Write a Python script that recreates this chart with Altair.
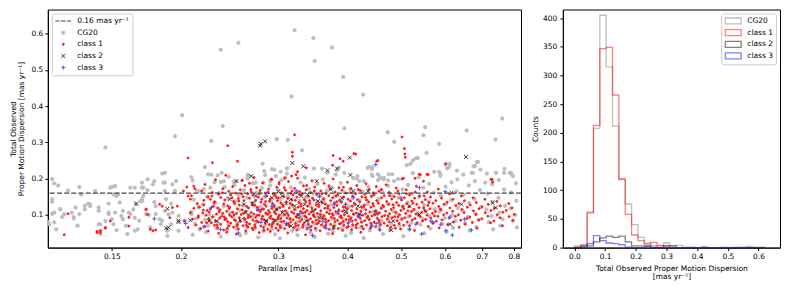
import altair as alt
import pandas as pd

DASH_LABEL = "0.16 mas yr\u207b\u00b9"
LEGEND_LABELS = [DASH_LABEL, "CG20", "class 1", "class 2", "class 3"]
THRESHOLD = 0.16

# ---- scatter: (parallax [mas], total observed PM dispersion [mas/yr]) ----
cg20 = [
    (0.117,0.199),(0.118,0.187),(0.120,0.181),(0.117,0.143),(0.117,0.136),(0.117,0.103),(0.118,0.106),(0.115,0.080),
    (0.119,0.060),(0.121,0.115),(0.122,0.094),(0.125,0.167),(0.128,0.090),(0.128,0.094),(0.129,0.120),(0.131,0.177),
    (0.130,0.070),(0.132,0.156),(0.134,0.115),(0.136,0.131),(0.137,0.124),(0.140,0.166),(0.143,0.074),(0.143,0.056),
    (0.142,0.120),(0.142,0.111),(0.146,0.083),(0.148,0.131),(0.148,0.106),(0.149,0.175),(0.152,0.179),(0.151,0.156),
    (0.153,0.152),(0.155,0.134),(0.150,0.088),(0.153,0.058),(0.156,0.097),(0.157,0.111),(0.160,0.047),(0.162,0.175),
    (0.161,0.106),(0.164,0.115),(0.165,0.092),(0.166,0.129),(0.167,0.060),(0.170,0.189),(0.174,0.198),(0.169,0.138),
    (0.170,0.143),(0.173,0.115),(0.175,0.100),(0.178,0.184),(0.179,0.135),(0.180,0.124),(0.183,0.088),(0.184,0.074),
    (0.185,0.214),(0.186,0.189),(0.187,0.166),(0.188,0.143),(0.192,0.131),(0.189,0.042),(0.189,0.056),(0.190,0.101),
    (0.193,0.106),(0.198,0.097),(0.193,0.184),(0.196,0.193),
    (0.1156,0.074),(0.118,0.079),(0.121,0.116),(0.123,0.102),(0.127,0.106),(0.131,0.102),(0.134,0.125),(0.137,0.129),
    (0.130,0.070),(0.142,0.074),(0.143,0.047),(0.148,0.102),(0.152,0.106),(0.151,0.074),(0.157,0.088),(0.159,0.070),
    (0.162,0.102),(0.165,0.056),(0.168,0.084),(0.170,0.138),(0.173,0.102),(0.176,0.065),(0.180,0.102),(0.185,0.084),
    (0.187,0.111),(0.192,0.074),(0.198,0.056),(0.203,0.084),(0.209,0.102),
    (0.150,0.177),(0.152,0.180),(0.154,0.157),(0.170,0.175),(0.174,0.168),(0.171,0.152),(0.165,0.175),(0.171,0.175),
    (0.179,0.193),(0.187,0.189),(0.195,0.166),(0.215,0.166),(0.239,0.193),(0.251,0.193),(0.264,0.207),(0.273,0.189),
    (0.283,0.221),(0.297,0.207),(0.292,0.226),(0.303,0.219),(0.311,0.228),(0.368,0.216),(0.383,0.223),(0.454,0.212),
    (0.460,0.202),(0.475,0.212),(0.486,0.193),
    # band
    (0.210,0.195),(0.214,0.165),(0.211,0.142),(0.215,0.122),(0.209,0.108),(0.213,0.090),(0.212,0.075),(0.216,0.060),(0.210,0.045),
    (0.224,0.212),(0.220,0.171),(0.223,0.149),(0.219,0.128),(0.225,0.101),(0.221,0.086),(0.224,0.070),(0.222,0.052),
    (0.230,0.190),(0.234,0.160),(0.231,0.133),(0.235,0.115),(0.229,0.096),(0.233,0.079),(0.232,0.063),(0.236,0.040),
    (0.244,0.205),(0.240,0.177),(0.243,0.146),(0.239,0.124),(0.245,0.105),(0.241,0.088),(0.244,0.072),(0.242,0.057),
    (0.250,0.183),(0.254,0.155),(0.251,0.138),(0.255,0.112),(0.249,0.093),(0.253,0.076),(0.252,0.061),(0.256,0.043),
    (0.264,0.200),(0.260,0.168),(0.263,0.147),(0.259,0.126),(0.265,0.100),(0.261,0.083),(0.264,0.066),(0.262,0.050),
    (0.270,0.187),(0.274,0.161),(0.271,0.134),(0.275,0.116),(0.269,0.094),(0.273,0.079),(0.272,0.064),(0.276,0.038),
    (0.284,0.210),(0.280,0.174),(0.283,0.150),(0.279,0.122),(0.285,0.103),(0.281,0.087),(0.284,0.071),(0.282,0.055),
    (0.290,0.181),(0.294,0.158),(0.291,0.137),(0.295,0.113),(0.289,0.092),(0.293,0.077),(0.292,0.060),(0.296,0.046),
    (0.304,0.196),(0.300,0.169),(0.303,0.143),(0.299,0.119),(0.305,0.098),(0.301,0.084),(0.304,0.068),(0.302,0.035),
    (0.311,0.214),(0.316,0.176),(0.312,0.152),(0.317,0.128),(0.310,0.107),(0.315,0.089),(0.313,0.073),(0.318,0.056),
    (0.329,0.189),(0.323,0.163),(0.328,0.139),(0.322,0.114),(0.330,0.095),(0.324,0.080),(0.327,0.062),(0.325,0.044),
    (0.335,0.203),(0.341,0.172),(0.336,0.148),(0.342,0.125),(0.334,0.101),(0.340,0.086),(0.337,0.069),(0.343,0.051),
    (0.353,0.185),(0.347,0.159),(0.352,0.135),(0.346,0.111),(0.354,0.093),(0.348,0.076),(0.351,0.059),(0.349,0.039),
    (0.361,0.198),(0.367,0.167),(0.362,0.144),(0.368,0.121),(0.360,0.099),(0.366,0.083),(0.363,0.067),(0.369,0.048),
    (0.381,0.211),(0.375,0.175),(0.380,0.151),(0.374,0.127),(0.382,0.104),(0.376,0.088),(0.379,0.072),(0.377,0.055),
    (0.389,0.188),(0.395,0.162),(0.390,0.138),(0.396,0.116),(0.388,0.096),(0.394,0.080),(0.391,0.063),(0.397,0.042),
    (0.410,0.201),(0.404,0.170),(0.409,0.146),(0.403,0.123),(0.411,0.102),(0.405,0.085),(0.408,0.068),(0.406,0.050),
    (0.420,0.193),(0.426,0.164),(0.421,0.140),(0.427,0.118),(0.419,0.097),(0.425,0.081),(0.422,0.065),(0.428,0.036),
    (0.444,0.207),(0.436,0.178),(0.443,0.153),(0.435,0.129),(0.445,0.108),(0.437,0.090),(0.442,0.074),(0.439,0.057),
    (0.454,0.196),(0.462,0.167),(0.455,0.143),(0.463,0.120),(0.453,0.100),(0.461,0.084),(0.457,0.069),(0.464,0.047),
    (0.482,0.212),(0.474,0.180),(0.481,0.155),(0.473,0.131),(0.484,0.110),(0.475,0.092),(0.480,0.076),(0.477,0.058),
    (0.494,0.199),(0.503,0.170),(0.495,0.147),(0.504,0.124),(0.492,0.103),(0.501,0.087),(0.497,0.071),(0.505,0.041),
    (0.525,0.215),(0.515,0.183),(0.524,0.158),(0.514,0.134),(0.526,0.113),(0.516,0.095),(0.522,0.078),(0.518,0.060),
    (0.538,0.204),(0.549,0.175),(0.539,0.150),(0.550,0.127),(0.536,0.106),(0.547,0.089),(0.542,0.073),(0.551,0.049),
    (0.574,0.219),(0.562,0.186),(0.573,0.161),(0.561,0.137),(0.575,0.116),(0.563,0.097),(0.570,0.080),(0.565,0.062),
    (0.589,0.208),(0.602,0.178),(0.590,0.153),(0.603,0.130),(0.587,0.109),(0.600,0.091),(0.594,0.075),(0.604,0.053),
    (0.631,0.222),(0.617,0.190),(0.630,0.165),(0.616,0.141),(0.633,0.119),(0.619,0.100),(0.627,0.083),(0.621,0.064),
    (0.648,0.211),(0.663,0.181),(0.649,0.156),(0.664,0.133),(0.646,0.112),(0.661,0.094),(0.653,0.077),(0.666,0.057),
    (0.696,0.225),(0.680,0.193),(0.695,0.168),(0.679,0.144),(0.698,0.122),(0.682,0.103),(0.691,0.086),(0.684,0.067),
    (0.715,0.214),(0.731,0.184),(0.716,0.159),(0.732,0.136),(0.713,0.115),(0.729,0.097),(0.720,0.080),(0.734,0.060),
    (0.769,0.227),(0.751,0.196),(0.768,0.170),(0.750,0.147),(0.771,0.125),(0.753,0.106),(0.763,0.088),(0.756,0.070),
    (0.790,0.216),(0.807,0.187),(0.791,0.162),(0.808,0.139),(0.788,0.118),(0.805,0.100),(0.796,0.083),(0.810,0.065),
    # upper outliers
    (0.146,0.286),(0.187,0.216),(0.209,0.204),(0.221,0.232),(0.201,0.375),(0.195,0.317),(0.238,0.345),(0.227,0.304),
    (0.321,0.610),(0.254,0.575),(0.236,0.556),(0.347,0.588),(0.375,0.562),(0.349,0.525),(0.393,0.481),(0.317,0.427),
    (0.427,0.432),(0.298,0.309),(0.312,0.307),(0.395,0.339),(0.473,0.328),(0.486,0.302),(0.553,0.342),(0.549,0.320),
    (0.586,0.296),(0.657,0.333),(0.762,0.366),(0.741,0.308),(0.331,0.278),
    (0.281,0.241),(0.295,0.225),(0.348,0.228),(0.360,0.228),(0.386,0.230),(0.395,0.216),(0.417,0.207),(0.227,0.211),
    (0.233,0.209),(0.237,0.216),(0.236,0.191),(0.264,0.211),(0.249,0.191),(0.282,0.189),(0.290,0.193),(0.309,0.202),
    (0.226,0.175),(0.556,0.271),(0.536,0.257),(0.520,0.241),(0.676,0.234),(0.686,0.246),(0.671,0.216),(0.601,0.239),
    (0.611,0.232),(0.632,0.198),(0.589,0.213),(0.742,0.216),(0.768,0.216),(0.786,0.216),(0.710,0.189),(0.732,0.196),
    (0.795,0.209),(0.438,0.232),(0.444,0.232),(0.443,0.211),(0.458,0.204),(0.466,0.202),(0.474,0.195),
    (0.532,0.256),(0.525,0.250),(0.512,0.237),(0.689,0.246),(0.680,0.235),(0.674,0.216),(0.743,0.216),(0.797,0.207),
    (0.435,0.230),(0.443,0.226),(0.416,0.201),(0.428,0.193),(0.465,0.198),(0.612,0.241),(0.606,0.228),(0.586,0.219),
]

class1 = [
    (0.125,0.103),(0.123,0.045),(0.141,0.054),(0.143,0.056),(0.146,0.063),(0.149,0.083),(0.161,0.069),(0.173,0.115),
    (0.174,0.101),(0.176,0.060),(0.178,0.056),(0.180,0.058),(0.183,0.129),(0.185,0.124),(0.193,0.120),(0.197,0.124),
    (0.191,0.092),(0.202,0.166),(0.205,0.177),(0.211,0.179),(0.212,0.172),(0.206,0.152),(0.208,0.143),(0.203,0.083),
    (0.206,0.065),(0.208,0.106),(0.141,0.051),(0.143,0.051),(0.146,0.065),(0.161,0.093),
    (0.206,0.257),(0.228,0.244),(0.253,0.248),(0.243,0.291),(0.321,0.321),(0.502,0.315),
    (0.318,0.273),(0.318,0.262),(0.377,0.264),(0.388,0.255),(0.393,0.248),(0.414,0.268),(0.376,0.237),(0.337,0.230),
    (0.325,0.219),(0.258,0.195),(0.266,0.187),(0.292,0.198),(0.301,0.189),(0.308,0.202),(0.317,0.207),(0.323,0.211),
    (0.411,0.269),(0.454,0.250),(0.507,0.283),(0.508,0.268),(0.509,0.259),(0.603,0.241),(0.502,0.199),(0.542,0.211),
    (0.560,0.211),(0.549,0.193),(0.727,0.198),(0.732,0.190),(0.452,0.248),(0.539,0.212),(0.557,0.212),(0.505,0.201),
    (0.530,0.201),(0.729,0.198),
    # dense band
    (0.209,0.153),(0.214,0.131),(0.211,0.118),(0.215,0.097),(0.210,0.088),(0.213,0.072),
    (0.218,0.166),(0.216,0.121),(0.219,0.105),(0.215,0.093),(0.218,0.079),(0.217,0.062),(0.220,0.140),
    (0.221,0.184),(0.224,0.150),(0.220,0.128),(0.223,0.112),(0.222,0.099),(0.225,0.085),(0.221,0.068),(0.224,0.055),
    (0.228,0.162),(0.226,0.143),(0.229,0.124),(0.225,0.108),(0.228,0.094),(0.227,0.078),(0.230,0.071),(0.226,0.116),
    (0.231,0.197),(0.234,0.157),(0.230,0.136),(0.233,0.119),(0.232,0.102),(0.235,0.091),(0.231,0.083),(0.233,0.064),(0.234,0.049),
    (0.238,0.172),(0.236,0.148),(0.239,0.130),(0.235,0.113),(0.238,0.104),(0.237,0.096),(0.240,0.087),(0.236,0.074),(0.239,0.058),
    (0.241,0.209),(0.244,0.165),(0.240,0.141),(0.243,0.125),(0.242,0.110),(0.245,0.099),(0.241,0.089),(0.243,0.081),(0.244,0.069),(0.242,0.052),
    (0.248,0.178),(0.246,0.155),(0.249,0.137),(0.245,0.121),(0.248,0.107),(0.247,0.095),(0.250,0.086),(0.246,0.077),(0.249,0.066),
    (0.251,0.160),(0.254,0.145),(0.250,0.131),(0.253,0.117),(0.252,0.104),(0.255,0.092),(0.251,0.084),(0.253,0.073),(0.254,0.061),(0.252,0.047),
    (0.258,0.195),(0.256,0.169),(0.259,0.150),(0.255,0.127),(0.258,0.114),(0.257,0.101),(0.260,0.090),(0.256,0.082),(0.259,0.070),
    (0.261,0.181),(0.264,0.158),(0.260,0.139),(0.263,0.123),(0.262,0.110),(0.265,0.098),(0.261,0.088),(0.263,0.079),(0.264,0.067),(0.262,0.056),
    (0.268,0.163),(0.266,0.146),(0.269,0.133),(0.265,0.119),(0.268,0.106),(0.267,0.095),(0.270,0.085),(0.266,0.075),(0.269,0.063),
    (0.271,0.203),(0.274,0.175),(0.270,0.154),(0.273,0.140),(0.272,0.126),(0.275,0.113),(0.271,0.102),(0.273,0.093),(0.274,0.083),(0.272,0.072),(0.270,0.059),
    (0.278,0.167),(0.276,0.149),(0.279,0.135),(0.275,0.121),(0.278,0.109),(0.277,0.099),(0.280,0.089),(0.276,0.080),(0.279,0.069),(0.277,0.051),
    (0.281,0.188),(0.284,0.160),(0.280,0.143),(0.283,0.129),(0.282,0.116),(0.285,0.105),(0.281,0.096),(0.283,0.086),(0.284,0.077),(0.282,0.065),
    (0.288,0.171),(0.286,0.152),(0.289,0.138),(0.285,0.124),(0.288,0.112),(0.287,0.101),(0.290,0.092),(0.286,0.083),(0.289,0.073),(0.287,0.060),
    (0.291,0.198),(0.294,0.158),(0.290,0.144),(0.293,0.131),(0.292,0.118),(0.295,0.107),(0.291,0.097),(0.293,0.088),(0.294,0.079),(0.292,0.068),(0.290,0.054),
    (0.298,0.176),(0.296,0.154),(0.299,0.139),(0.295,0.126),(0.298,0.114),(0.297,0.103),(0.300,0.094),(0.296,0.085),(0.299,0.074),(0.297,0.063),
    (0.301,0.185),(0.304,0.161),(0.300,0.147),(0.303,0.133),(0.302,0.120),(0.305,0.109),(0.301,0.099),(0.303,0.090),(0.304,0.081),(0.302,0.070),(0.300,0.057),
    (0.309,0.168),(0.307,0.150),(0.310,0.136),(0.306,0.123),(0.309,0.111),(0.308,0.100),(0.311,0.091),(0.307,0.082),(0.310,0.072),(0.308,0.062),
    (0.313,0.192),(0.316,0.159),(0.312,0.145),(0.315,0.132),(0.314,0.119),(0.317,0.108),(0.313,0.098),(0.315,0.089),(0.316,0.080),(0.314,0.069),(0.312,0.050),
    (0.321,0.173),(0.319,0.155),(0.322,0.140),(0.318,0.127),(0.321,0.115),(0.320,0.104),(0.323,0.095),(0.319,0.086),(0.322,0.076),(0.320,0.064),
    (0.325,0.201),(0.328,0.164),(0.324,0.149),(0.327,0.134),(0.326,0.121),(0.329,0.110),(0.325,0.100),(0.327,0.091),(0.328,0.082),(0.326,0.071),(0.324,0.058),
    (0.333,0.180),(0.331,0.157),(0.334,0.142),(0.330,0.129),(0.333,0.117),(0.332,0.106),(0.335,0.096),(0.331,0.087),(0.334,0.078),(0.332,0.066),
    (0.337,0.169),(0.340,0.151),(0.336,0.137),(0.339,0.124),(0.338,0.112),(0.341,0.102),(0.337,0.093),(0.339,0.084),(0.340,0.074),(0.338,0.061),(0.336,0.045),
    (0.345,0.194),(0.343,0.162),(0.346,0.146),(0.342,0.132),(0.345,0.119),(0.344,0.108),(0.347,0.098),(0.343,0.089),(0.346,0.080),(0.344,0.068),
    (0.349,0.177),(0.352,0.156),(0.348,0.141),(0.351,0.127),(0.350,0.115),(0.353,0.104),(0.349,0.094),(0.351,0.085),(0.352,0.075),(0.350,0.063),
    (0.358,0.166),(0.356,0.150),(0.359,0.136),(0.355,0.123),(0.358,0.111),(0.357,0.101),(0.360,0.092),(0.356,0.083),(0.359,0.072),(0.357,0.056),
    (0.363,0.187),(0.366,0.159),(0.362,0.144),(0.365,0.130),(0.364,0.118),(0.367,0.107),(0.363,0.097),(0.365,0.088),(0.366,0.079),(0.364,0.067),
    (0.372,0.172),(0.370,0.153),(0.373,0.139),(0.369,0.125),(0.372,0.113),(0.371,0.103),(0.374,0.093),(0.370,0.084),(0.373,0.074),(0.371,0.060),
    (0.377,0.199),(0.380,0.163),(0.376,0.147),(0.379,0.133),(0.378,0.120),(0.381,0.109),(0.377,0.099),(0.379,0.090),(0.380,0.081),(0.378,0.069),(0.376,0.048),
    (0.386,0.175),(0.384,0.155),(0.387,0.140),(0.383,0.126),(0.386,0.114),(0.385,0.104),(0.388,0.094),(0.384,0.085),(0.387,0.075),(0.385,0.062),
    (0.391,0.168),(0.394,0.149),(0.390,0.135),(0.393,0.122),(0.392,0.110),(0.395,0.100),(0.391,0.091),(0.393,0.082),(0.394,0.071),(0.392,0.057),
    (0.400,0.190),(0.398,0.160),(0.401,0.143),(0.397,0.129),(0.400,0.117),(0.399,0.106),(0.402,0.096),(0.398,0.087),(0.401,0.077),(0.399,0.065),
    (0.406,0.173),(0.409,0.152),(0.405,0.138),(0.408,0.124),(0.407,0.112),(0.410,0.102),(0.406,0.092),(0.408,0.083),(0.409,0.073),(0.407,0.059),
    (0.416,0.181),(0.414,0.158),(0.417,0.142),(0.413,0.128),(0.416,0.116),(0.415,0.105),(0.418,0.095),(0.414,0.086),(0.417,0.076),(0.415,0.064),
    (0.422,0.167),(0.425,0.150),(0.421,0.136),(0.424,0.122),(0.423,0.110),(0.426,0.099),(0.422,0.090),(0.424,0.080),(0.425,0.068),(0.423,0.052),
    (0.432,0.186),(0.430,0.157),(0.433,0.141),(0.429,0.127),(0.432,0.114),(0.431,0.103),(0.434,0.093),(0.430,0.084),(0.433,0.072),
    (0.438,0.170),(0.442,0.151),(0.437,0.136),(0.441,0.121),(0.439,0.108),(0.443,0.097),(0.438,0.087),(0.441,0.077),(0.440,0.063),
    (0.451,0.178),(0.447,0.155),(0.452,0.139),(0.446,0.125),(0.450,0.112),(0.448,0.100),(0.453,0.090),(0.447,0.080),(0.450,0.067),
    (0.456,0.165),(0.461,0.147),(0.455,0.132),(0.460,0.118),(0.457,0.106),(0.462,0.095),(0.456,0.085),(0.459,0.073),(0.458,0.058),
    (0.470,0.183),(0.466,0.153),(0.471,0.137),(0.465,0.123),(0.469,0.110),(0.467,0.098),(0.472,0.088),(0.466,0.077),
    (0.476,0.162),(0.481,0.144),(0.475,0.129),(0.480,0.115),(0.477,0.103),(0.482,0.092),(0.476,0.081),(0.479,0.066),
    (0.490,0.174),(0.486,0.150),(0.491,0.134),(0.485,0.120),(0.489,0.107),(0.487,0.095),(0.492,0.084),(0.486,0.071),
    (0.496,0.158),(0.501,0.141),(0.495,0.126),(0.500,0.112),(0.497,0.100),(0.502,0.089),(0.496,0.076),(0.499,0.061),
    (0.511,0.169),(0.507,0.147),(0.512,0.131),(0.506,0.117),(0.510,0.104),(0.508,0.092),(0.513,0.080),
    (0.518,0.155),(0.523,0.138),(0.517,0.123),(0.522,0.109),(0.519,0.097),(0.524,0.086),(0.518,0.070),
    (0.533,0.179),(0.529,0.146),(0.534,0.129),(0.528,0.115),(0.532,0.102),(0.530,0.090),(0.535,0.078),(0.529,0.057),
    (0.540,0.152),(0.546,0.135),(0.539,0.120),(0.545,0.107),(0.541,0.095),(0.547,0.083),
    (0.558,0.163),(0.553,0.142),(0.559,0.126),(0.552,0.112),(0.557,0.099),(0.554,0.087),(0.560,0.068),
    (0.565,0.149),(0.571,0.132),(0.564,0.117),(0.570,0.104),(0.566,0.091),(0.572,0.077),
    (0.584,0.171),(0.578,0.139),(0.585,0.123),(0.577,0.109),(0.583,0.096),(0.579,0.082),(0.586,0.064),
    (0.592,0.146),(0.598,0.129),(0.591,0.114),(0.597,0.100),(0.593,0.086),
    (0.612,0.158),(0.606,0.135),(0.613,0.119),(0.605,0.105),(0.611,0.091),(0.607,0.073),
    (0.621,0.143),(0.628,0.126),(0.620,0.110),(0.627,0.096),(0.622,0.080),
    (0.643,0.152),(0.636,0.131),(0.644,0.115),(0.635,0.100),(0.641,0.085),(0.637,0.066),
    (0.651,0.139),(0.659,0.121),(0.650,0.106),(0.658,0.090),(0.653,0.074),
    (0.675,0.147),(0.667,0.127),(0.676,0.111),(0.666,0.094),(0.673,0.079),
    (0.684,0.134),(0.692,0.117),(0.683,0.101),(0.691,0.086),(0.686,0.063),
    (0.709,0.143),(0.701,0.122),(0.710,0.106),(0.700,0.089),
    (0.719,0.129),(0.727,0.112),(0.718,0.096),(0.726,0.078),
    (0.745,0.137),(0.737,0.118),(0.746,0.100),(0.736,0.083),
    (0.756,0.125),(0.764,0.107),(0.755,0.092),(0.763,0.070),
    (0.783,0.131),(0.775,0.112),(0.784,0.095),
    (0.794,0.119),(0.801,0.101),(0.797,0.085),
    # extra fill in the densest part of the band
    (0.2195,0.113),(0.2245,0.090),(0.2295,0.133),(0.2345,0.108),(0.2395,0.094),(0.2445,0.117),(0.2495,0.100),
    (0.2545,0.138),(0.2595,0.105),(0.2645,0.092),(0.2695,0.127),(0.2745,0.099),(0.2795,0.114),(0.2845,0.137),
    (0.2895,0.106),(0.2945,0.123),(0.2995,0.089),(0.3055,0.128),(0.3115,0.104),(0.3175,0.141),(0.3235,0.093),
    (0.3295,0.124),(0.3355,0.107),(0.3415,0.139),(0.3475,0.101),(0.3545,0.129),(0.3615,0.090),(0.3685,0.118),
    (0.3755,0.103),(0.3825,0.136),(0.3895,0.097),(0.3965,0.121),(0.4035,0.087),(0.4115,0.132),(0.4195,0.101),
    (0.4275,0.122),(0.4355,0.096),(0.4445,0.131),(0.4535,0.104),(0.4635,0.126),(0.4735,0.097),(0.4835,0.128),
    (0.4935,0.094),(0.5035,0.123),(0.5145,0.111),(0.5255,0.132),(0.5375,0.100),(0.5495,0.119),(0.5615,0.134),
    (0.5745,0.097),(0.5885,0.116),
    (0.2225,0.078),(0.2325,0.071),(0.2425,0.062),(0.2525,0.069),(0.2625,0.072),(0.2725,0.066),(0.2825,0.057),
    (0.2925,0.074),(0.3025,0.064),(0.3125,0.076),(0.3225,0.069),(0.3325,0.072),(0.3435,0.058),(0.3545,0.078),
    (0.3655,0.071),(0.3775,0.063),(0.3895,0.077),(0.4015,0.068),(0.4145,0.071),(0.4275,0.061),(0.4415,0.069),
    (0.4565,0.079),(0.4725,0.070),(0.4885,0.063),(0.5055,0.071),
    (0.2275,0.152),(0.2375,0.161),(0.2475,0.147),(0.2575,0.158),(0.2675,0.170),(0.2775,0.158),(0.2875,0.163),
    (0.2975,0.148),(0.3075,0.175),(0.3175,0.166),(0.3275,0.156),(0.3375,0.181),(0.3485,0.166),(0.3595,0.158),
    (0.3705,0.180),(0.3815,0.152),(0.3935,0.176),(0.4055,0.161),(0.4185,0.170),(0.4315,0.148),(0.4455,0.161),
    (0.4605,0.170),(0.4765,0.153),(0.4935,0.166),(0.5115,0.158),(0.5305,0.163),(0.5505,0.152),
]

class2 = [
    (0.166,0.131),(0.189,0.117),(0.188,0.063),(0.198,0.080),(0.208,0.085),(0.190,0.065),(0.198,0.084),
    (0.278,0.291),(0.284,0.303),(0.279,0.296),(0.318,0.243),(0.333,0.234),(0.404,0.258),(0.655,0.260),(0.368,0.223),
    (0.405,0.210),(0.268,0.207),(0.252,0.193),(0.352,0.193),(0.383,0.228),
    (0.245,0.143),(0.260,0.129),(0.269,0.131),(0.273,0.152),(0.292,0.147),(0.300,0.164),(0.305,0.152),(0.310,0.131),
    (0.316,0.143),(0.321,0.124),(0.330,0.152),(0.335,0.129),(0.339,0.156),(0.337,0.083),(0.347,0.111),(0.354,0.138),
    (0.361,0.133),(0.356,0.092),(0.373,0.170),(0.378,0.065),(0.391,0.147),(0.397,0.109),(0.410,0.166),(0.418,0.124),
    (0.305,0.106),(0.298,0.115),(0.262,0.106),(0.232,0.083),(0.225,0.083),(0.316,0.069),(0.326,0.100),(0.285,0.083),
    (0.256,0.085),(0.296,0.084),(0.421,0.102),
    (0.436,0.166),(0.450,0.106),(0.484,0.083),(0.540,0.101),(0.555,0.109),(0.643,0.129),(0.617,0.161),(0.732,0.133),
    (0.742,0.120),(0.480,0.058),(0.613,0.074),(0.518,0.124),
]

class3 = [
    (0.179,0.089),(0.204,0.076),(0.220,0.067),(0.227,0.120),(0.236,0.060),(0.254,0.050),(0.276,0.115),(0.285,0.152),
    (0.279,0.079),(0.292,0.124),(0.310,0.076),(0.324,0.166),(0.328,0.103),(0.341,0.065),(0.346,0.043),(0.356,0.152),
    (0.361,0.081),(0.366,0.063),(0.379,0.129),(0.385,0.109),(0.397,0.129),(0.402,0.079),(0.410,0.149),(0.420,0.097),
    (0.450,0.239),(0.500,0.147),(0.443,0.069),(0.457,0.060),(0.451,0.076),(0.518,0.060),(0.532,0.074),(0.566,0.083),
    (0.570,0.079),(0.603,0.056),(0.619,0.044),(0.613,0.094),(0.651,0.088),(0.670,0.058),(0.540,0.175),(0.601,0.164),
    (0.545,0.047),(0.590,0.074),
]

# ---- histogram (step), counts per bin ----
hist_edges = [0.0, 0.0207, 0.0414, 0.0621, 0.0828, 0.1035, 0.1242, 0.1449, 0.1656, 0.1863, 0.207,
              0.2277, 0.2484, 0.2691, 0.2898, 0.3105, 0.3312, 0.3519, 0.3726, 0.3933, 0.414,
              0.4347, 0.4554, 0.4761, 0.4968, 0.5175, 0.5382, 0.5589, 0.5796, 0.6003, 0.621]
hist_counts = {
    "CG20":    [3, 5, 60, 208, 405, 315, 212, 118, 76, 40, 18, 8, 4, 4, 8, 3, 4, 1, 1, 0, 2, 0, 0, 1, 0, 1, 1, 2, 1, 1],
    "class 1": [1, 4, 62, 213, 347, 349, 266, 120, 58, 22, 12, 6, 9, 3, 3, 0, 0, 0, 0, 0, 0, 0, 0, 0, 0, 0, 0, 0, 0, 0],
    "class 2": [0, 2, 3, 10, 17, 20, 18, 20, 10, 3, 3, 3, 1, 0, 3, 3, 0, 0, 0, 0, 0, 0, 0, 0, 0, 0, 0, 0, 0, 0],
    "class 3": [0, 0, 7, 21, 12, 8, 7, 5, 1, 0, 0, 2, 0, 0, 0, 0, 0, 0, 0, 0, 0, 0, 0, 0, 0, 0, 0, 0, 0, 0],
}
HIST_SERIES = ["CG20", "class 1", "class 2", "class 3"]
HIST_COLORS = ["gray", "red", "black", "blue"]

FONT = "DejaVu Sans"
FS = 7.5

# ---------------- scatter panel ----------------
rows = []
for name, pts in [("CG20", cg20), ("class 1", class1), ("class 2", class2), ("class 3", class3)]:
    for p, v in pts:
        rows.append({"parallax": p, "disp": v, "label": name})
sc = pd.DataFrame(rows)

DASH_PATH = "M-1,0L-0.45,0M-0.275,0L0.275,0M0.45,0L1,0"
X_PATH = "M-1,-1L1,1M-1,1L1,-1"
PLUS_PATH = "M-1,0L1,0M0,-1L0,1"

left_legend = alt.Legend(
    title=None, orient="top-left", offset=4, padding=3, rowPadding=2.7, clipHeight=9,
    labelOffset=5.5, labelFont=FONT, labelFontSize=FS, labelColor="black", labelLimit=300,
    strokeColor="#cccccc", fillColor="white", cornerRadius=2, symbolStrokeWidth=1,
)
dom = LEGEND_LABELS
x_scale = alt.Scale(type="log", domain=[0.1149, 0.824], nice=False, zero=False)
y_scale = alt.Scale(domain=[0.0095, 0.667], nice=False, zero=False)

points = alt.Chart(sc).mark_point(filled=False, strokeWidth=1, opacity=1, clip=True).encode(
    x=alt.X("parallax:Q", scale=x_scale,
            axis=alt.Axis(values=[0.15, 0.2, 0.3, 0.4, 0.5, 0.6, 0.7, 0.8], format="~g",
                          title="Parallax [mas]")),
    y=alt.Y("disp:Q", scale=y_scale,
            axis=alt.Axis(values=[0.1, 0.2, 0.3, 0.4, 0.5, 0.6], format=".1f",
                          title=["Total Observed", "Proper Motion Dispersion [mas yr\u207b\u00b9]"],
                          titlePadding=5)),
    shape=alt.Shape("label:N", scale=alt.Scale(domain=dom, range=[DASH_PATH, "circle", "circle", X_PATH, PLUS_PATH]), legend=left_legend),
    fill=alt.Fill("label:N", scale=alt.Scale(domain=dom, range=["transparent", "#bdbdbd", "#ff1a1a", "transparent", "transparent"]), legend=left_legend),
    stroke=alt.Stroke("label:N", scale=alt.Scale(domain=dom, range=["#444444", "#bdbdbd", "#ff1a1a", "#333333", "#5050ff"]), legend=left_legend),
    size=alt.Size("label:N", scale=alt.Scale(type="ordinal", domain=dom, range=[256, 11, 4, 15, 18]), legend=left_legend),
)

rule = alt.Chart(pd.DataFrame({"thr": [THRESHOLD]})).mark_rule(
    color="#444444", strokeDash=[5, 2.2], strokeWidth=1.3
).encode(y=alt.Y("thr:Q", scale=y_scale))

left = alt.layer(points, rule).properties(width=475, height=239)

# ---------------- histogram panel ----------------
hrows = []
for s in HIST_SERIES:
    c = hist_counts[s]
    o = 0
    hrows.append({"series": s, "x": hist_edges[0], "y": 0, "o": o}); o += 1
    for i, cnt in enumerate(c):
        hrows.append({"series": s, "x": hist_edges[i], "y": cnt, "o": o}); o += 1
    hrows.append({"series": s, "x": hist_edges[-1], "y": c[-1], "o": o}); o += 1
    hrows.append({"series": s, "x": hist_edges[-1], "y": 0, "o": o}); o += 1
hd = pd.DataFrame(hrows)

RECT_PATH = "M-1,-0.375H1V0.375H-1Z"
right_legend = alt.Legend(
    title=None, orient="top-right", offset=4, padding=3, rowPadding=2.7, clipHeight=9,
    labelOffset=5.2, labelFont=FONT, labelFontSize=FS, labelColor="black",
    strokeColor="#cccccc", fillColor="white", cornerRadius=2,
    symbolType=RECT_PATH, symbolSize=256, symbolStrokeWidth=1.3, symbolOpacity=0.5,
    symbolFillColor="transparent",
)
hist = alt.Chart(hd).mark_line(interpolate="step-after", strokeWidth=1.3, opacity=0.5, clip=True).encode(
    x=alt.X("x:Q", scale=alt.Scale(domain=[-0.0377, 0.670], nice=False, zero=False),
            axis=alt.Axis(values=[0.0, 0.1, 0.2, 0.3, 0.4, 0.5, 0.6], format=".1f",
                          title=["Total Observed Proper Motion Dispersion", "[mas yr\u207b\u00b9]"])),
    y=alt.Y("y:Q", scale=alt.Scale(domain=[0, 415], nice=False),
            axis=alt.Axis(values=[0, 50, 100, 150, 200, 250, 300, 350, 400], format="d", title="Counts",
                          titlePadding=3, labelPadding=3)),
    stroke=alt.Stroke("series:N", scale=alt.Scale(domain=HIST_SERIES, range=HIST_COLORS), legend=right_legend),
    order=alt.Order("o:Q"),
)
right = hist.properties(width=218, height=239)

chart = alt.hconcat(left, right, spacing=8).resolve_scale(
    x="independent", y="independent", stroke="independent", fill="independent",
    shape="independent", size="independent"
).resolve_legend(stroke="independent").properties(
    padding={"left": 0, "top": 0, "right": 0, "bottom": 0}
).configure_view(
    stroke="black", strokeWidth=1
).configure_axis(
    grid=False, labelFont=FONT, labelFontSize=FS, labelColor="black",
    titleFont=FONT, titleFontSize=FS, titleFontWeight="normal", titleColor="black",
    tickColor="black", domainColor="black", tickSize=3, labelPadding=2, titleLineHeight=9,
    zindex=1,
)

chart.save("out.html", embed_options={"renderer": "svg", "actions": False})
